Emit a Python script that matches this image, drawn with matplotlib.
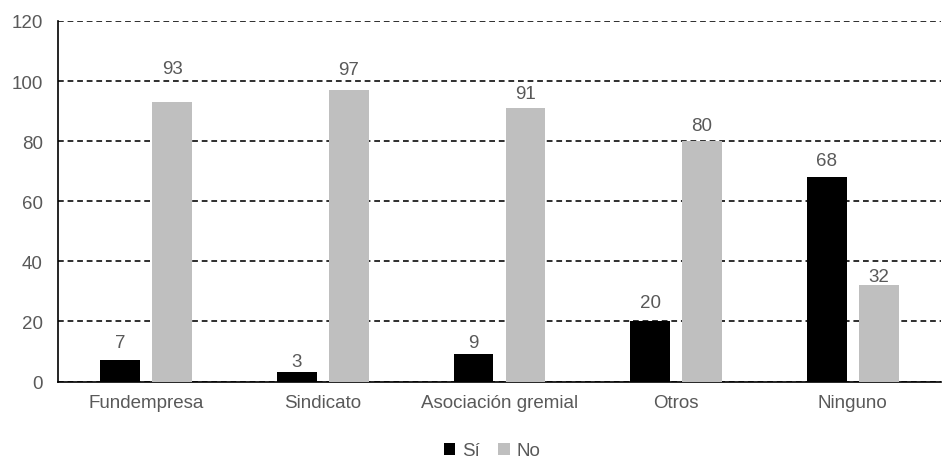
import matplotlib
matplotlib.use('Agg')
import matplotlib.pyplot as plt
import numpy as np

# Datos
categorias = ['Fundempresa', 'Sindicato', 'Asociación gremial', 'Otros', 'Ninguno']
valores_si = [7, 3, 9, 20, 68]
valores_no = [93, 97, 91, 80, 32]
etiquetas_serie = ['Sí', 'No']

# separación de cada etiqueta sobre su barra (px), como en el original
sep_si = [18, 11, 12, 19, 17]
sep_no = [34, 21, 15, 16, 9]

COLOR_SI = '#000000'
COLOR_NO = '#BFBFBF'
COLOR_TEXTO = '#595959'
TAM = 13.5

plt.rcParams['font.family'] = ['Liberation Sans', 'DejaVu Sans']

fig = plt.figure(figsize=(9.48, 4.6), dpi=100)
ax = fig.add_axes([58 / 948, 1 - 382.5 / 460, (941 - 58) / 948, (382.5 - 22) / 460])

x = np.arange(len(categorias))
ancho = 0.226
desp = 0.147

barras_si = ax.bar(x - desp, valores_si, ancho, color=COLOR_SI, label=etiquetas_serie[0], zorder=3)
barras_no = ax.bar(x + desp, valores_no, ancho, color=COLOR_NO, label=etiquetas_serie[1], zorder=3)

for barras, seps in ((barras_si, sep_si), (barras_no, sep_no)):
    for b, s in zip(barras, seps):
        ax.annotate(f"{int(b.get_height())}", (b.get_x() + b.get_width() / 2, b.get_height()),
                    xytext=(0, s * 0.72), textcoords='offset points',
                    ha='center', va='center', fontsize=TAM, color=COLOR_TEXTO)

ax.set_xlim(-0.5, len(categorias) - 0.5)
ax.set_ylim(0, 120)
ax.set_yticks(range(0, 121, 20))
ax.set_xticks(x)
ax.set_xticklabels(categorias)
ax.tick_params(axis='both', length=0, labelsize=TAM, labelcolor=COLOR_TEXTO)
ax.tick_params(axis='x', pad=9)
ax.tick_params(axis='y', pad=11)

ax.yaxis.grid(True, linestyle=(0, (3.6, 2.4)), color='black', linewidth=1.15, zorder=0)
ax.set_axisbelow(True)
for lado in ['top', 'right']:
    ax.spines[lado].set_visible(False)
ax.spines['left'].set_linewidth(1.2)
ax.spines['bottom'].set_linewidth(1.2)

fig.legend(loc='center', bbox_to_anchor=(492 / 948, 1 - 452 / 460), ncol=2, frameon=False,
           fontsize=TAM, handlelength=0.6, handleheight=0.6, handletextpad=0.35, columnspacing=1.0,
           labelcolor=COLOR_TEXTO)

fig.savefig('out.png', dpi=100)
